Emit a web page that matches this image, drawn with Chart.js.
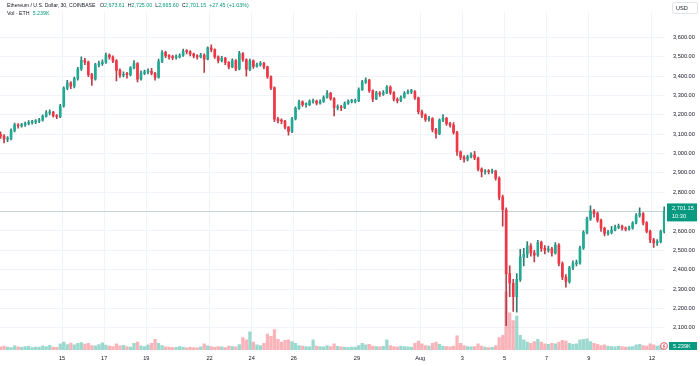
<!DOCTYPE html>
<html>
<head>
<meta charset="utf-8">
<script src="https://cdn.jsdelivr.net/npm/chart.js@4.4.1/dist/chart.umd.min.js"></script>
<style>
  html, body { margin: 0; padding: 0; background: #fff; }
  #wrap { position: relative; width: 700px; height: 366px; }
</style>
</head>
<body>
<div id="wrap"><canvas id="ethChart" width="700" height="366"></canvas></div>
<script>
// --- ETH/USD candles, 4h buckets ---

// time grid: day-of-July (Aug 1 = 32), one candle every 4 hours
const startDay = 12;
const candleHours = 4;
const firstOpen = 3100;

const closes = [
  3090,3075,3077,3120,3148,3143,3148,3155,3160,3164,
  3167,3174,3192,3210,3214,3196,3191,3246,3338,3366,
  3348,3387,3437,3482,3473,3408,3386,3459,3465,3472,
  3509,3499,3479,3430,3405,3409,3408,3443,3465,3385,
  3416,3422,3425,3415,3394,3476,3523,3506,3499,3496,
  3500,3507,3529,3527,3515,3505,3499,3509,3488,3546,
  3537,3500,3480,3494,3471,3448,3481,3437,3517,3486,
  3435,3479,3451,3459,3467,3448,3397,3340,3178,3170,
  3168,3137,3114,3180,3234,3268,3253,3253,3269,3271,
  3261,3269,3290,3312,3284,3237,3240,3237,3259,3270,
  3270,3273,3330,3369,3380,3325,3283,3314,3307,3315,
  3344,3315,3281,3273,3291,3312,3320,3320,3288,3216,
  3199,3177,3181,3124,3103,3173,3182,3155,3147,3110,
  3008,2982,2971,2984,2993,2977,2920,2906,2908,2906,
  2909,2873,2775,2710,2380,2330,2260,2350,2465,2480,
  2523,2487,2475,2541,2510,2500,2508,2487,2527,2432,
  2362,2340,2410,2431,2435,2513,2593,2663,2703,2690,
  2656,2614,2588,2592,2605,2619,2625,2614,2610,2616,
  2640,2680,2690,2642,2598,2554,2538,2545,2597,2701.15
];

const highs = [
  3112,3098,3088,3128,3158,3155,3157,3163,3170,3172,
  3176,3182,3200,3222,3226,3218,3202,3255,3345,3378,
  3372,3395,3446,3500,3492,3478,3415,3466,3478,3485,
  3520,3516,3505,3486,3438,3422,3420,3450,3480,3470,
  3428,3432,3438,3440,3420,3488,3532,3530,3512,3508,
  3510,3516,3540,3538,3532,3520,3512,3518,3515,3552,
  3562,3542,3505,3502,3498,3476,3490,3486,3528,3522,
  3490,3488,3484,3468,3476,3472,3452,3402,3345,3188,
  3180,3172,3140,3188,3242,3276,3272,3262,3278,3282,
  3276,3278,3298,3325,3316,3290,3252,3250,3268,3278,
  3280,3282,3340,3378,3392,3384,3330,3322,3320,3326,
  3352,3350,3320,3288,3298,3320,3330,3332,3326,3292,
  3225,3206,3192,3186,3130,3180,3202,3188,3162,3160,
  3115,3014,2990,2992,3004,3012,2982,2926,2918,2918,
  2920,2914,2880,2785,2720,2420,2350,2380,2505,2510,
  2545,2535,2500,2552,2548,2525,2522,2515,2540,2535,
  2440,2375,2418,2446,2450,2522,2602,2672,2730,2712,
  2698,2662,2620,2604,2624,2630,2636,2630,2622,2625,
  2648,2690,2720,2695,2648,2605,2562,2556,2605,2725
];

const lows = [
  3078,3055,3062,3070,3112,3132,3136,3140,3148,3152,
  3155,3160,3168,3188,3200,3188,3180,3186,3240,3330,
  3336,3340,3380,3430,3460,3398,3352,3380,3448,3455,
  3466,3488,3470,3375,3394,3396,3390,3402,3438,3370,
  3380,3408,3412,3406,3380,3390,3470,3496,3488,3485,
  3488,3494,3502,3515,3505,3494,3488,3495,3420,3484,
  3525,3492,3468,3474,3460,3438,3444,3428,3432,3476,
  3400,3428,3440,3446,3452,3438,3388,3330,3165,3158,
  3155,3128,3095,3108,3174,3228,3244,3240,3248,3260,
  3252,3256,3264,3286,3276,3195,3226,3222,3232,3254,
  3262,3262,3268,3326,3362,3316,3268,3278,3296,3300,
  3310,3306,3272,3262,3268,3286,3308,3310,3280,3205,
  3186,3166,3168,3112,3080,3098,3165,3146,3136,3100,
  2990,2968,2956,2962,2978,2968,2910,2880,2894,2895,
  2898,2862,2760,2625,2111,2260,2185,2180,2340,2420,
  2462,2470,2440,2468,2495,2482,2490,2470,2480,2420,
  2348,2310,2330,2400,2420,2428,2505,2585,2655,2672,
  2645,2598,2575,2578,2585,2600,2612,2604,2600,2604,
  2610,2636,2672,2632,2590,2540,2515,2525,2538,2590
];

// volume in K ETH per 4h bucket
const volumes = [
  28,34,25,22,36,27,24,30,33,22,26,25,38,30,41,26,24,
  55,70,48,62,45,58,66,
  52,60,40,36,48,64,44,34,30,55,
  38,42,30,26,58,70,36,30,45,60,95,
  60,40,28,25,22,24,30,26,20,24,22,20,
  28,55,38,30,24,30,28,22,35,30,28,48,
  110,90,160,70,45,40,60,140,120,
  180,95,70,85,90,75,60,40,35,
  30,28,90,35,30,28,40,30,55,32,28,24,22,25,26,
  40,60,45,50,35,30,28,32,90,40,30,26,35,30,28,25,60,
  78,55,40,35,60,70,50,35,30,28,35,
  125,60,40,30,28,30,55,35,25,22,24,40,
  110,130,515,330,260,300,
  130,90,70,60,75,95,70,55,50,60,55,
  70,85,80,60,50,55,90,95,100,
  75,60,50,40,45,35,30,28,35,30,25,28,
  30,45,50,40,35,55,45,35,40,50
];

const priceTicks = [2100,2200,2300,2400,2500,2600,2700,2800,2900,3000,3100,3200,3300,3400,3500,3600];
const dayTicks = [15,17,19,22,24,26,29,32,34,36,38,40,43];
const dayLabels = ['15','17','19','22','24','26','29','Aug','3','5','7','9','12'];

// --- build series for the library ---
const UP = '#22ab94', DOWN = '#f23645';
const UP_WICK = '#2f7d72', DOWN_WICK = '#b9404a';
const UP_VOL = 'rgba(34,171,148,0.45)', DOWN_VOL = 'rgba(242,54,69,0.38)';
const FONT = '"Liberation Sans", Arial, sans-serif';
const FS = 5.6;

const times = closes.map((_, i) => startDay + (i + 0.5) * candleHours / 24);
const opens = closes.map((c, i) => i === 0 ? firstOpen : closes[i - 1]);
const isUp = closes.map((c, i) => c >= opens[i]);
const lastPrice = closes[closes.length - 1];

const gridColor = '#f0f3fa';

// write a row of [text, colour, gapAfter] pieces left to right
function textRow(ctx, x, y, pieces) {
  pieces.forEach(([t, c, gap]) => {
    ctx.fillStyle = c;
    ctx.fillText(t, x, y);
    x += ctx.measureText(t).width + gap;
  });
}

// overlays: header, last-price line and tags
const overlay = {
  id: 'overlay',
  beforeDatasetsDraw(chart) {
    const { ctx, chartArea, scales } = chart;
    const y = Math.round(scales.y.getPixelForValue(lastPrice)) + 0.5;
    ctx.save();
    ctx.strokeStyle = '#c3d5d2';
    ctx.lineWidth = 1;
    ctx.beginPath();
    ctx.moveTo(chartArea.left, y);
    ctx.lineTo(chartArea.right, y);
    ctx.stroke();
    ctx.restore();
  },
  afterDraw(chart) {
    const { ctx, scales } = chart;
    ctx.save();
    ctx.textBaseline = 'middle';

    // header
    ctx.font = '5.1px ' + FONT;
    ctx.fillStyle = '#131722';
    ctx.fillText('Ethereum / U.S. Dollar, 30, COINBASE', 7, 6);
    ctx.font = '5.3px ' + FONT;
    const DARK = '#131722', TEAL = '#089981';
    textRow(ctx, 100, 6, [
      ['O', DARK, 0], ['2,673.61', TEAL, 3],
      ['H', DARK, 0], ['2,725.00', TEAL, 3],
      ['L', DARK, 0], ['2,665.60', TEAL, 3],
      ['C', DARK, 0], ['2,701.15', TEAL, 3],
      ['+27.45 (+1.03%)', TEAL, 0]
    ]);
    textRow(ctx, 7, 14, [['Vol · ETH', DARK, 3], ['5.239K', TEAL, 0]]);

    ctx.font = FS + 'px ' + FONT;
    // USD box
    ctx.strokeStyle = '#e0e3eb';
    ctx.fillStyle = '#fff';
    ctx.beginPath();
    ctx.roundRect(672.5, 2.5, 25, 11, 2);
    ctx.fill(); ctx.stroke();
    ctx.fillStyle = '#131722';
    ctx.fillText('USD', 676, 8);

    // last price tag
    const y = scales.y.getPixelForValue(lastPrice);
    ctx.fillStyle = '#089981';
    ctx.fillRect(667, y - 8, 30, 18);
    ctx.fillStyle = '#fff';
    ctx.fillText(lastPrice.toLocaleString('en-US', { minimumFractionDigits: 2 }), 672, y - 3);
    ctx.fillText('10:30', 672, y + 5);

    // volume tag + icon
    ctx.fillStyle = '#089981';
    ctx.fillRect(669, 342, 28, 8);
    ctx.fillStyle = '#fff';
    ctx.fillText('5.239K', 673, 346.5);
    ctx.strokeStyle = '#f23645';
    ctx.fillStyle = '#fff';
    ctx.lineWidth = 0.8;
    ctx.beginPath();
    ctx.arc(664, 346, 3.4, 0, Math.PI * 2);
    ctx.fill(); ctx.stroke();
    ctx.beginPath();
    ctx.moveTo(664.6, 343.8); ctx.lineTo(663.2, 346.3); ctx.lineTo(664.8, 346.3); ctx.lineTo(663.4, 348.4);
    ctx.stroke();
    ctx.restore();
  }
};

const ctx = document.getElementById('ethChart').getContext('2d');

const ethChart = new Chart(ctx, {
  type: 'bar',
  data: {
    datasets: [
      {
        label: 'bodies',
        data: times.map((t, i) => ({ x: t, y: [opens[i], closes[i]] })),
        backgroundColor: isUp.map(u => u ? UP : DOWN),
        barThickness: 2,
        minBarLength: 1,
        grouped: false,
        order: 1,
        yAxisID: 'y'
      },
      {
        label: 'wicks',
        data: times.map((t, i) => ({ x: t, y: [lows[i], highs[i]] })),
        backgroundColor: isUp.map(u => u ? UP_WICK : DOWN_WICK),
        barThickness: 1,
        grouped: false,
        order: 2,
        yAxisID: 'y'
      },
      {
        label: 'volume',
        data: times.map((t, i) => ({ x: t, y: volumes[i] })),
        backgroundColor: isUp.map(u => u ? UP_VOL : DOWN_VOL),
        barThickness: 2.6,
        grouped: false,
        order: 3,
        yAxisID: 'yv'
      }
    ]
  },
  options: {
    responsive: false,
    animation: false,
    devicePixelRatio: 1,
    layout: { padding: 0 },
    plugins: { legend: { display: false }, tooltip: { enabled: false } },
    scales: {
      x: {
        type: 'linear',
        min: 12.057,
        max: 43.62,
        offset: false,
        afterBuildTicks: s => { s.ticks = dayTicks.map(v => ({ value: v })); },
        afterFit: s => { s.height = 16; },
        ticks: {
          autoSkip: false,
          maxRotation: 0,
          padding: 5,
          color: '#131722',
          font: { family: FONT, size: FS },
          callback: v => dayLabels[dayTicks.indexOf(v)]
        },
        grid: { color: gridColor, drawTicks: false, offset: false },
        border: { display: false }
      },
      y: {
        position: 'right',
        min: 1985,
        max: 3735,
        afterBuildTicks: s => { s.ticks = priceTicks.map(v => ({ value: v })); },
        afterFit: s => { s.width = 35; },
        ticks: {
          padding: 8,
          color: '#131722',
          font: { family: FONT, size: FS },
          callback: v => v.toLocaleString('en-US', { minimumFractionDigits: 2 })
        },
        grid: { color: gridColor, drawTicks: false },
        border: { display: false }
      },
      yv: {
        display: false,
        min: 0,
        max: 3000
      }
    }
  },
  plugins: [overlay]
});
</script>
</body>
</html>
